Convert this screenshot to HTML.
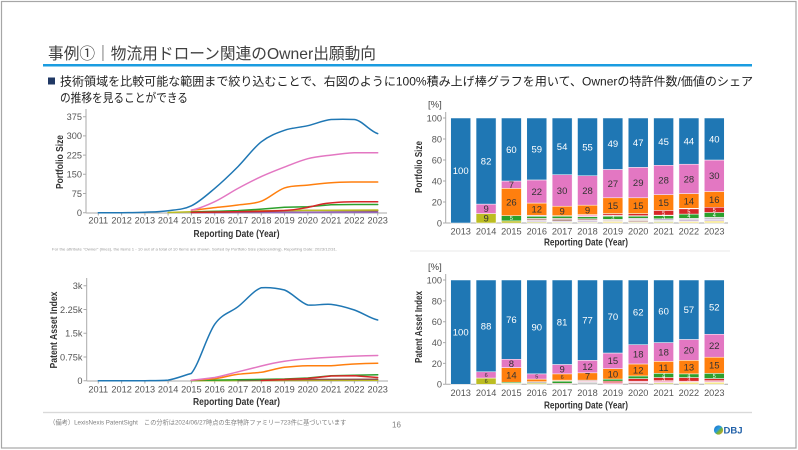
<!DOCTYPE html>
<html><head><meta charset="utf-8"><style>
html,body{margin:0;padding:0;background:#fff;}
svg{display:block;font-family:"Liberation Sans","Noto Sans CJK JP",sans-serif;}
.bars rect{vector-effect:non-scaling-stroke;stroke:#fff;stroke-width:.5}
.b{fill:#1f77b4}.p{fill:#e377c2}.o{fill:#ff7f0e}.g{fill:#2ca02c}.r{fill:#d62728}.y{fill:#bcbd22}
.ly{fill:#dbdb8d}.lp{fill:#f7b6d2}.lb{fill:#c49c94}.lv{fill:#c5b0d5}.lg{fill:#c7c7c7}.lo{fill:#ffbb78}.br{fill:#8c564b}.yy{fill:#f5e58a}
.tk{font-size:9.2px;fill:#555}
.ax{font-size:10px;font-weight:bold;fill:#333}
.w{font-size:9.5px;fill:#fff;text-anchor:middle}
.d{font-size:9.5px;fill:#333;text-anchor:middle}
.sw{font-size:5.5px;fill:#fff;text-anchor:middle}
.sd{font-size:5.5px;fill:#333;text-anchor:middle}
.ln{fill:none;stroke-width:1.5;stroke-linejoin:round;stroke-linecap:round}
</style></head><body>
<svg width="798" height="450" viewBox="0 0 798 450" xmlns="http://www.w3.org/2000/svg">
<rect x="1.5" y="1.5" width="794.5" height="446.5" fill="#fff" stroke="#a6a6a6" stroke-width="1.2"/>

<!-- Title -->
<text x="48" y="59" font-size="16" fill="#404040" textLength="328" lengthAdjust="spacingAndGlyphs">事例①｜物流用ドローン関連のOwner出願動向</text>
<rect x="43" y="64" width="709" height="2.5" fill="#1a9ce0"/>
<rect x="48" y="77.5" width="7" height="7" fill="#203864"/>
<text x="60" y="85.5" font-size="12" fill="#222" textLength="693" lengthAdjust="spacingAndGlyphs">技術領域を比較可能な範囲まで絞り込むことで、右図のように100%積み上げ棒グラフを用いて、Ownerの特許件数/価値のシェア</text>
<text x="60" y="102" font-size="12" fill="#222" textLength="128" lengthAdjust="spacingAndGlyphs">の推移を見ることができる</text>

<!-- ===== Top-left line chart ===== -->
<g stroke="#aaa" stroke-width="1">
<line x1="86" y1="109" x2="86" y2="213"/>
<line x1="86" y1="213" x2="387" y2="213"/>
<path d="M83 116.7H86M83 135.9H86M83 155.1H86M83 174.3H86M83 193.5H86M83 212.7H86"/>
<path d="M98.3 213v2.5M121.6 213v2.5M144.9 213v2.5M168.1 213v2.5M191.4 213v2.5M214.7 213v2.5M238 213v2.5M261.3 213v2.5M284.5 213v2.5M307.8 213v2.5M331.1 213v2.5M354.4 213v2.5M377.7 213v2.5"/>
</g>
<g class="tk" text-anchor="end">
<text x="82" y="120">375</text><text x="82" y="139.2">300</text><text x="82" y="158.4">225</text><text x="82" y="177.6">150</text><text x="82" y="196.8">75</text><text x="82" y="216">0</text>
</g>
<g class="tk" text-anchor="middle" fill="#444">
<text x="98.3" y="223.5">2011</text><text x="121.6" y="223.5">2012</text><text x="144.9" y="223.5">2013</text><text x="168.1" y="223.5">2014</text><text x="191.4" y="223.5">2015</text><text x="214.7" y="223.5">2016</text><text x="238" y="223.5">2017</text><text x="261.3" y="223.5">2018</text><text x="284.5" y="223.5">2019</text><text x="307.8" y="223.5">2020</text><text x="331.1" y="223.5">2021</text><text x="354.4" y="223.5">2022</text><text x="377.7" y="223.5">2023</text>
</g>
<text class="ax" x="236.5" y="237" text-anchor="middle" textLength="86" lengthAdjust="spacingAndGlyphs">Reporting Date (Year)</text>
<text class="ax" transform="translate(63,162) rotate(-90)" text-anchor="middle" textLength="54" lengthAdjust="spacingAndGlyphs">Portfolio Size</text>
<text x="52" y="250.5" font-size="4" fill="#999" textLength="285" lengthAdjust="spacingAndGlyphs">For the attribute "Owner" (lines), the items 1 - 10 out of a total of 10 items are shown. Sorted by Portfolio Size (descending). Reporting Date: 2023/12/31.</text>

<polyline class="ln" stroke="#9467bd" points="191.4,212.7 377.7,212.2"/>
<polyline class="ln" stroke="#8c564b" points="191.4,212.5 261.3,211.5 307.8,210.4 331.1,210.6 377.7,210.8"/>
<polyline class="ln" stroke="#bcbd22" points="168.1,212.5 191.4,211.8 238,211 284.5,210.5 331.1,210.2 377.7,210"/>
<polyline class="ln" stroke="#2ca02c" points="191.4,212 214.7,211.4 238,210.6 261.3,209.1 284.5,207.3 307.8,206.8 331.1,204.8 354.4,204.5 377.7,204.5"/>
<path class="ln" stroke="#d62728" d="M191.4,212.4 C230,212 260,211.5 284.5,210.5 C300,209.5 310,207 320,204.5 C328,202.8 340,202 354.4,201.8 L377.7,201.8"/>
<path class="ln" stroke="#ff7f0e" d="M191.4,210.1 C199.16,209.68 206.94,208.45 214.7,207.6 C222.46,206.75 230.24,206.07 238,205 C245.76,203.93 253.54,204.05 261.3,201.2 C269.06,198.35 276.74,190.58 284.5,187.9 C292.26,185.22 300.04,185.97 307.8,185.1 C315.56,184.23 323.34,183.22 331.1,182.7 C338.86,182.18 346.64,182.12 354.4,182 L377.7,182"/>
<path class="ln" stroke="#e377c2" d="M191.4,210.1 C199.16,208.7 206.94,205.32 214.7,201.7 C222.46,198.08 230.24,192.58 238,188.4 C245.76,184.22 253.54,180.15 261.3,176.6 C269.06,173.05 276.74,170.08 284.5,167.1 C292.26,164.12 300.04,160.7 307.8,158.7 C315.56,156.7 323.34,156.08 331.1,155.1 C338.86,154.12 346.64,153.18 354.4,152.8 L377.7,152.8"/>
<path class="ln" stroke="#1f77b4" d="M98.3,212.7 C106.06,212.7 113.84,212.78 121.6,212.7 C129.36,212.62 137.14,212.53 144.9,212.2 C152.66,211.87 160.34,211.77 168.1,210.7 C175.86,209.63 183.64,209.52 191.4,205.8 C199.16,202.08 206.94,194.93 214.7,188.4 C222.46,181.87 230.24,174.37 238,166.6 C245.76,158.83 253.54,147.85 261.3,141.8 C269.06,135.75 276.74,132.98 284.5,130.3 C292.26,127.62 300.04,127.5 307.8,125.7 C315.56,123.9 323.34,120.2 331.1,119.5 C338.86,119.2 346.64,119.2 354.4,119.5 C362.16,120.5 369.94,131.25 377.7,133.6"/>

<!-- ===== Bottom-left line chart ===== -->
<g stroke="#aaa" stroke-width="1">
<line x1="86.7" y1="278" x2="86.7" y2="381"/>
<line x1="86.7" y1="381" x2="388" y2="381"/>
<path d="M83.5 285.7H86.7M83.5 309.45H86.7M83.5 333.2H86.7M83.5 356.95H86.7M83.5 380.7H86.7"/>
<path d="M98.3 381v2.5M121.6 381v2.5M144.9 381v2.5M168.1 381v2.5M191.4 381v2.5M214.7 381v2.5M238 381v2.5M261.3 381v2.5M284.5 381v2.5M307.8 381v2.5M331.1 381v2.5M354.4 381v2.5M377.7 381v2.5"/>
</g>
<g class="tk" text-anchor="end">
<text x="82.5" y="289">3k</text><text x="82.5" y="312.8">2.25k</text><text x="82.5" y="336.5">1.5k</text><text x="82.5" y="360.3">0.75k</text><text x="82.5" y="384">0</text>
</g>
<g class="tk" text-anchor="middle" fill="#444">
<text x="98.3" y="392.5">2011</text><text x="121.6" y="392.5">2012</text><text x="144.9" y="392.5">2013</text><text x="168.1" y="392.5">2014</text><text x="191.4" y="392.5">2015</text><text x="214.7" y="392.5">2016</text><text x="238" y="392.5">2017</text><text x="261.3" y="392.5">2018</text><text x="284.5" y="392.5">2019</text><text x="307.8" y="392.5">2020</text><text x="331.1" y="392.5">2021</text><text x="354.4" y="392.5">2022</text><text x="377.7" y="392.5">2023</text>
</g>
<text class="ax" x="236.5" y="405" text-anchor="middle" textLength="87" lengthAdjust="spacingAndGlyphs">Reporting Date (Year)</text>
<text class="ax" transform="translate(57,330) rotate(-90)" text-anchor="middle" textLength="77" lengthAdjust="spacingAndGlyphs">Patent Asset Index</text>

<polyline class="ln" stroke="#bcbd22" points="191.4,380.6 377.7,380.2"/>
<polyline class="ln" stroke="#8c564b" points="238,380.5 307.8,379.5 377.7,379.3"/>
<polyline class="ln" stroke="#2ca02c" points="191.4,380.5 238,379.8 284.5,379 307.8,378 331.1,375.8 354.4,375.3 377.7,374.8"/>
<polyline class="ln" stroke="#d62728" points="261.3,380.5 284.5,379.5 307.8,378.5 331.1,376 354.4,375.7 377.7,377.5"/>
<path class="ln" stroke="#ff7f0e" d="M191.4,380.3 C199,380 207,379.5 214.7,378.8 C222.5,377.5 230,375.5 238,374.3 C246,373.3 253.5,373.2 261.3,372.3 C269,371 276.7,368.3 284.5,367.3 C292.3,366.4 300,365.8 307.8,365.7 L331.1,365.7 C338.9,365.2 346.6,364.3 354.4,364 C362.2,363.6 370,363.4 377.7,363.3"/>
<path class="ln" stroke="#e377c2" d="M191.4,380.2 C199,379.5 207,378.5 214.7,377.5 C222.5,376 230,373.8 238,371.8 C246,369.8 253.5,368 261.3,366 C269,364 276.7,362.3 284.5,361.2 C292.3,360 300,359.3 307.8,358.7 C315.6,358 323.3,357.5 331.1,357.2 C338.9,356.8 346.6,356.4 354.4,356.1 C362.2,355.8 370,355.6 377.7,355.5"/>
<path class="ln" stroke="#1f77b4" d="M98.3,380.7 L144.9,380.7 C152.66,380.6 160.34,380.7 168.1,380.07 C175.86,378.85 183.64,375.5 191.4,373.35 C199.16,364.06 206.94,335.43 214.7,324.33 C222.46,313.23 230.24,312.8 238,306.7 C245.76,300.6 253.54,290.48 261.3,287.7 C269.06,287.3 276.74,288 284.5,290 C292.26,292.88 300.04,302.61 307.8,305 C315.56,305.8 323.34,303.6 331.1,304.35 C338.86,305.18 346.64,307.4 354.4,310 C362.16,312.6 369.94,318.33 377.7,320"/>

<!-- ===== Top-right bar chart ===== -->
<text x="428" y="107.5" font-size="9.5" fill="#444">[%]</text>
<g stroke="#aaa" stroke-width="1">
<line x1="445.7" y1="112" x2="445.7" y2="223"/>
<line x1="445.7" y1="223" x2="728" y2="223"/>
<path d="M443 118H445.7M443 139H445.7M443 160H445.7M443 181H445.7M443 202H445.7M443 223H445.7"/>
</g>
<g class="tk" text-anchor="end">
<text x="442" y="121.4">100</text><text x="442" y="142.4">80</text><text x="442" y="163.4">60</text><text x="442" y="184.4">40</text><text x="442" y="205.4">20</text><text x="442" y="226.4">0</text>
</g>
<g class="bars" transform="translate(0,223) scale(1,-1.05)">
<rect class="b" x="450.7" y="0" width="20" height="100"/>
<rect class="y" x="476.06" y="0" width="20" height="9"/><rect class="p" x="476.06" y="9" width="20" height="9"/><rect class="b" x="476.06" y="18" width="20" height="82"/>
<rect class="y" x="501.42" y="0" width="20" height="2"/><rect class="g" x="501.42" y="2" width="20" height="5"/><rect class="o" x="501.42" y="7" width="20" height="26"/><rect class="p" x="501.42" y="33" width="20" height="7"/><rect class="b" x="501.42" y="40" width="20" height="60"/>
<rect class="ly" x="526.78" y="0" width="20" height="1.2"/><rect class="lv" x="526.78" y="1.2" width="20" height="1.2"/><rect class="lb" x="526.78" y="2.4" width="20" height="2"/><rect class="g" x="526.78" y="4.4" width="20" height="2"/><rect class="lp" x="526.78" y="6.4" width="20" height="1"/><rect class="o" x="526.78" y="7.4" width="20" height="11.6"/><rect class="p" x="526.78" y="19" width="20" height="22"/><rect class="b" x="526.78" y="41" width="20" height="59"/>
<rect class="ly" x="552.14" y="0" width="20" height="1"/><rect class="lv" x="552.14" y="1" width="20" height="1"/><rect class="br" x="552.14" y="2" width="20" height="1.5"/><rect class="lb" x="552.14" y="3.5" width="20" height="1"/><rect class="g" x="552.14" y="4.5" width="20" height="2"/><rect class="r" x="552.14" y="6.5" width="20" height="0.5"/><rect class="o" x="552.14" y="7" width="20" height="9"/><rect class="p" x="552.14" y="16" width="20" height="30"/><rect class="b" x="552.14" y="46" width="20" height="54"/>
<rect class="ly" x="577.5" y="0" width="20" height="1"/><rect class="lv" x="577.5" y="1" width="20" height="1.5"/><rect class="lb" x="577.5" y="2.5" width="20" height="1.5"/><rect class="g" x="577.5" y="4" width="20" height="2"/><rect class="lp" x="577.5" y="6" width="20" height="2"/><rect class="o" x="577.5" y="8" width="20" height="9"/><rect class="p" x="577.5" y="17" width="20" height="28"/><rect class="b" x="577.5" y="45" width="20" height="55"/>
<rect class="yy" x="602.86" y="0" width="20" height="1.5"/><rect class="lb" x="602.86" y="1.5" width="20" height="1"/><rect class="lg" x="602.86" y="2.5" width="20" height="1"/><rect class="g" x="602.86" y="3.5" width="20" height="3"/><rect class="lp" x="602.86" y="6.5" width="20" height="1"/><rect class="r" x="602.86" y="7.5" width="20" height="1.5"/><rect class="o" x="602.86" y="9" width="20" height="15"/><rect class="p" x="602.86" y="24" width="20" height="27"/><rect class="b" x="602.86" y="51" width="20" height="49"/>
<rect class="ly" x="628.22" y="0" width="20" height="1"/><rect class="lb" x="628.22" y="1" width="20" height="1.5"/><rect class="lg" x="628.22" y="2.5" width="20" height="1"/><rect class="lv" x="628.22" y="3.5" width="20" height="1"/><rect class="g" x="628.22" y="4.5" width="20" height="2"/><rect class="lp" x="628.22" y="6.5" width="20" height="0.5"/><rect class="r" x="628.22" y="7" width="20" height="2"/><rect class="o" x="628.22" y="9" width="20" height="15"/><rect class="p" x="628.22" y="24" width="20" height="29"/><rect class="b" x="628.22" y="53" width="20" height="47"/>
<rect class="ly" x="653.58" y="0" width="20" height="1.5"/><rect class="lg" x="653.58" y="1.5" width="20" height="1"/><rect class="lv" x="653.58" y="2.5" width="20" height="1.5"/><rect class="g" x="653.58" y="4" width="20" height="3"/><rect class="lp" x="653.58" y="7" width="20" height="0.5"/><rect class="r" x="653.58" y="7.5" width="20" height="4.5"/><rect class="o" x="653.58" y="12" width="20" height="15"/><rect class="p" x="653.58" y="27" width="20" height="28"/><rect class="b" x="653.58" y="55" width="20" height="45"/>
<rect class="yy" x="678.94" y="0" width="20" height="1.5"/><rect class="lv" x="678.94" y="1.5" width="20" height="1.5"/><rect class="lg" x="678.94" y="3" width="20" height="1.5"/><rect class="g" x="678.94" y="4.5" width="20" height="4"/><rect class="r" x="678.94" y="8.5" width="20" height="5"/><rect class="lo" x="678.94" y="13.5" width="20" height="0.5"/><rect class="o" x="678.94" y="14" width="20" height="14"/><rect class="p" x="678.94" y="28" width="20" height="28"/><rect class="b" x="678.94" y="56" width="20" height="44"/>
<rect class="yy" x="704.3" y="0" width="20" height="2"/><rect class="lv" x="704.3" y="2" width="20" height="1.5"/><rect class="lg" x="704.3" y="3.5" width="20" height="2"/><rect class="g" x="704.3" y="5.5" width="20" height="4.5"/><rect class="r" x="704.3" y="10" width="20" height="5"/><rect class="o" x="704.3" y="15" width="20" height="15"/><rect class="p" x="704.3" y="30" width="20" height="30"/><rect class="b" x="704.3" y="60" width="20" height="40"/>
</g>
<g>
<text class="w" x="460.7" y="173.9">100</text>
<text class="w" x="486.1" y="164.4">82</text><text class="d" x="486.1" y="212.2">9</text><text class="d" x="486.1" y="221.7">9</text>
<text class="w" x="511.4" y="152.9">60</text><text class="d" x="511.4" y="188.1">7</text><text class="d" x="511.4" y="205.4">26</text><text class="sw" x="511.4" y="220.2">5</text>
<text class="w" x="536.8" y="152.4">59</text><text class="d" x="536.8" y="194.9">22</text><text class="d" x="536.8" y="212.5">12</text>
<text class="w" x="562.1" y="149.8">54</text><text class="d" x="562.1" y="193.9">30</text><text class="d" x="562.1" y="214.3">9</text>
<text class="w" x="587.5" y="150.3">55</text><text class="d" x="587.5" y="193.9">28</text><text class="d" x="587.5" y="213.3">9</text>
<text class="w" x="612.9" y="147.1">49</text><text class="d" x="612.9" y="187">27</text><text class="d" x="612.9" y="209.1">15</text><text class="sw" x="612.9" y="219.7">3</text>
<text class="w" x="638.2" y="146.1">47</text><text class="d" x="638.2" y="186">29</text><text class="d" x="638.2" y="209.1">15</text>
<text class="w" x="663.6" y="145">45</text><text class="d" x="663.6" y="183.4">28</text><text class="d" x="663.6" y="205.9">15</text><text class="sw" x="663.6" y="214.8">5</text><text class="sw" x="663.6" y="219.2">3</text>
<text class="w" x="688.9" y="144.5">44</text><text class="d" x="688.9" y="182.3">28</text><text class="d" x="688.9" y="204.4">14</text><text class="sw" x="688.9" y="213.5">5</text><text class="sw" x="688.9" y="218.2">4</text>
<text class="w" x="714.3" y="142.4">40</text><text class="d" x="714.3" y="179.2">30</text><text class="d" x="714.3" y="202.8">16</text><text class="sw" x="714.3" y="211.9">5</text><text class="sw" x="714.3" y="216.9">4</text>
</g>
<g class="tk" text-anchor="middle" fill="#444">
<text x="460.7" y="234.5">2013</text><text x="486.1" y="234.5">2014</text><text x="511.4" y="234.5">2015</text><text x="536.8" y="234.5">2016</text><text x="562.1" y="234.5">2017</text><text x="587.5" y="234.5">2018</text><text x="612.9" y="234.5">2019</text><text x="638.2" y="234.5">2020</text><text x="663.6" y="234.5">2021</text><text x="688.9" y="234.5">2022</text><text x="714.3" y="234.5">2023</text>
</g>
<text class="ax" x="586" y="245.5" text-anchor="middle" textLength="84" lengthAdjust="spacingAndGlyphs">Reporting Date (Year)</text>
<text class="ax" transform="translate(422,167) rotate(-90)" text-anchor="middle" textLength="52" lengthAdjust="spacingAndGlyphs">Portfolio Size</text>
<line x1="410" y1="251" x2="730" y2="251" stroke="#f0f0f0" stroke-width="1.5"/>

<!-- ===== Bottom-right bar chart ===== -->
<text x="428" y="270.2" font-size="9.5" fill="#444">[%]</text>
<g stroke="#aaa" stroke-width="1">
<line x1="445.7" y1="274" x2="445.7" y2="384.3"/>
<line x1="445.7" y1="384.3" x2="728" y2="384.3"/>
<path d="M443 280H445.7M443 300.9H445.7M443 321.7H445.7M443 342.6H445.7M443 363.4H445.7M443 384.3H445.7"/>
</g>
<g class="tk" text-anchor="end">
<text x="442" y="283.4">100</text><text x="442" y="304.3">80</text><text x="442" y="325.1">60</text><text x="442" y="346">40</text><text x="442" y="366.8">20</text><text x="442" y="387.7">0</text>
</g>
<g class="bars" transform="translate(0,384.3) scale(1,-1.043)">
<rect class="b" x="450.7" y="0" width="20" height="100"/>
<rect class="y" x="476.06" y="0" width="20" height="6"/><rect class="p" x="476.06" y="6" width="20" height="6"/><rect class="b" x="476.06" y="12" width="20" height="88"/>
<rect class="ly" x="501.42" y="0" width="20" height="1"/><rect class="g" x="501.42" y="1" width="20" height="1"/><rect class="o" x="501.42" y="2" width="20" height="14"/><rect class="p" x="501.42" y="16" width="20" height="8"/><rect class="b" x="501.42" y="24" width="20" height="76"/>
<rect class="y" x="526.78" y="0" width="20" height="1"/><rect class="lg" x="526.78" y="1" width="20" height="1.5"/><rect class="o" x="526.78" y="2.5" width="20" height="2.5"/><rect class="p" x="526.78" y="5" width="20" height="5"/><rect class="b" x="526.78" y="10" width="20" height="90"/>
<rect class="lb" x="552.14" y="0" width="20" height="1"/><rect class="g" x="552.14" y="1" width="20" height="2"/><rect class="lo" x="552.14" y="3" width="20" height="1"/><rect class="o" x="552.14" y="4" width="20" height="6"/><rect class="p" x="552.14" y="10" width="20" height="9"/><rect class="b" x="552.14" y="19" width="20" height="81"/>
<rect class="lg" x="577.5" y="0" width="20" height="2"/><rect class="lp" x="577.5" y="2" width="20" height="1"/><rect class="lb" x="577.5" y="3" width="20" height="1"/><rect class="o" x="577.5" y="4" width="20" height="7"/><rect class="p" x="577.5" y="11" width="20" height="12"/><rect class="b" x="577.5" y="23" width="20" height="77"/>
<rect class="lp" x="602.86" y="0" width="20" height="1.5"/><rect class="r" x="602.86" y="1.5" width="20" height="1.5"/><rect class="g" x="602.86" y="3" width="20" height="2"/><rect class="o" x="602.86" y="5" width="20" height="10"/><rect class="p" x="602.86" y="15" width="20" height="15"/><rect class="b" x="602.86" y="30" width="20" height="70"/>
<rect class="lb" x="628.22" y="0" width="20" height="1.5"/><rect class="lp" x="628.22" y="1.5" width="20" height="1.5"/><rect class="r" x="628.22" y="3" width="20" height="2.5"/><rect class="g" x="628.22" y="5.5" width="20" height="2.5"/><rect class="o" x="628.22" y="8" width="20" height="11.5"/><rect class="p" x="628.22" y="19.5" width="20" height="18.5"/><rect class="b" x="628.22" y="38" width="20" height="62"/>
<rect class="ly" x="653.58" y="0" width="20" height="1.5"/><rect class="lp" x="653.58" y="1.5" width="20" height="2"/><rect class="r" x="653.58" y="3.5" width="20" height="3"/><rect class="g" x="653.58" y="6.5" width="20" height="4"/><rect class="o" x="653.58" y="10.5" width="20" height="11.5"/><rect class="p" x="653.58" y="22" width="20" height="18"/><rect class="b" x="653.58" y="40" width="20" height="60"/>
<rect class="yy" x="678.94" y="0" width="20" height="2"/><rect class="lp" x="678.94" y="2" width="20" height="1"/><rect class="r" x="678.94" y="3" width="20" height="3.5"/><rect class="g" x="678.94" y="6.5" width="20" height="3.5"/><rect class="o" x="678.94" y="10" width="20" height="13"/><rect class="p" x="678.94" y="23" width="20" height="20"/><rect class="b" x="678.94" y="43" width="20" height="57"/>
<rect class="yy" x="704.3" y="0" width="20" height="2"/><rect class="lp" x="704.3" y="2" width="20" height="1.5"/><rect class="r" x="704.3" y="3.5" width="20" height="2"/><rect class="g" x="704.3" y="5.5" width="20" height="5"/><rect class="o" x="704.3" y="10.5" width="20" height="15.5"/><rect class="p" x="704.3" y="26" width="20" height="22"/><rect class="b" x="704.3" y="48" width="20" height="52"/>
</g>
<g>
<text class="w" x="460.7" y="335.5">100</text>
<text class="w" x="486.1" y="329.3">88</text><text class="sd" x="486.1" y="376.9">6</text><text class="sd" x="486.1" y="383.2">6</text>
<text class="w" x="511.4" y="323">76</text><text class="d" x="511.4" y="366.8">8</text><text class="d" x="511.4" y="378.3">14</text>
<text class="w" x="536.8" y="330.4">90</text><text class="sd" x="536.8" y="378.5">5</text>
<text class="w" x="562.1" y="325.6">81</text><text class="d" x="562.1" y="372.6">9</text><text class="sd" x="562.1" y="379">6</text>
<text class="w" x="587.5" y="323.6">77</text><text class="d" x="587.5" y="370">12</text><text class="d" x="587.5" y="379.5">7</text>
<text class="w" x="612.9" y="319.9">70</text><text class="d" x="612.9" y="364.2">15</text><text class="d" x="612.9" y="377.3">10</text>
<text class="w" x="638.2" y="315.7">62</text><text class="d" x="638.2" y="357.7">18</text><text class="d" x="638.2" y="373.4">12</text>
<text class="w" x="663.6" y="314.7">60</text><text class="d" x="663.6" y="355.4">18</text><text class="d" x="663.6" y="370.8">11</text><text class="sw" x="663.6" y="377.4">4</text><text class="sw" x="663.6" y="381.1">3</text>
<text class="w" x="688.9" y="313.1">57</text><text class="d" x="688.9" y="353.3">20</text><text class="d" x="688.9" y="370.5">13</text><text class="sw" x="688.9" y="377.7">4</text><text class="sw" x="688.9" y="381.3">3</text>
<text class="w" x="714.3" y="310.5">52</text><text class="d" x="714.3" y="349.1">22</text><text class="d" x="714.3" y="368.7">15</text><text class="sw" x="714.3" y="378">5</text>
</g>
<g class="tk" text-anchor="middle" fill="#444">
<text x="460.7" y="396.2">2013</text><text x="486.1" y="396.2">2014</text><text x="511.4" y="396.2">2015</text><text x="536.8" y="396.2">2016</text><text x="562.1" y="396.2">2017</text><text x="587.5" y="396.2">2018</text><text x="612.9" y="396.2">2019</text><text x="638.2" y="396.2">2020</text><text x="663.6" y="396.2">2021</text><text x="688.9" y="396.2">2022</text><text x="714.3" y="396.2">2023</text>
</g>
<text class="ax" x="586" y="408.5" text-anchor="middle" textLength="84" lengthAdjust="spacingAndGlyphs">Reporting Date (Year)</text>
<text class="ax" transform="translate(422,327) rotate(-90)" text-anchor="middle" textLength="72" lengthAdjust="spacingAndGlyphs">Patent Asset Index</text>

<!-- Footer -->
<rect x="43" y="411.8" width="709" height="1.4" fill="#d9d9d9"/>
<text x="49.3" y="424.5" font-size="6.5" fill="#808080" textLength="297" lengthAdjust="spacingAndGlyphs">（備考）LexisNexis PatentSight　この分析は2024/06/27時点の生存特許ファミリー723件に基づいています</text>
<text x="392" y="427.5" font-size="8" fill="#808080">16</text>
<defs>
<linearGradient id="gl" x1="0" y1="0" x2="1" y2="1">
<stop offset="0" stop-color="#1e6fc0"/><stop offset="0.45" stop-color="#2a9be0"/><stop offset="0.6" stop-color="#6cb33f"/><stop offset="1" stop-color="#f0a020"/>
</linearGradient>
</defs>
<circle cx="718.5" cy="430" r="4.6" fill="url(#gl)"/>
<text x="723.5" y="433.6" font-size="9.5" font-weight="bold" fill="#2060a8">DBJ</text>
</svg>
</body></html>
